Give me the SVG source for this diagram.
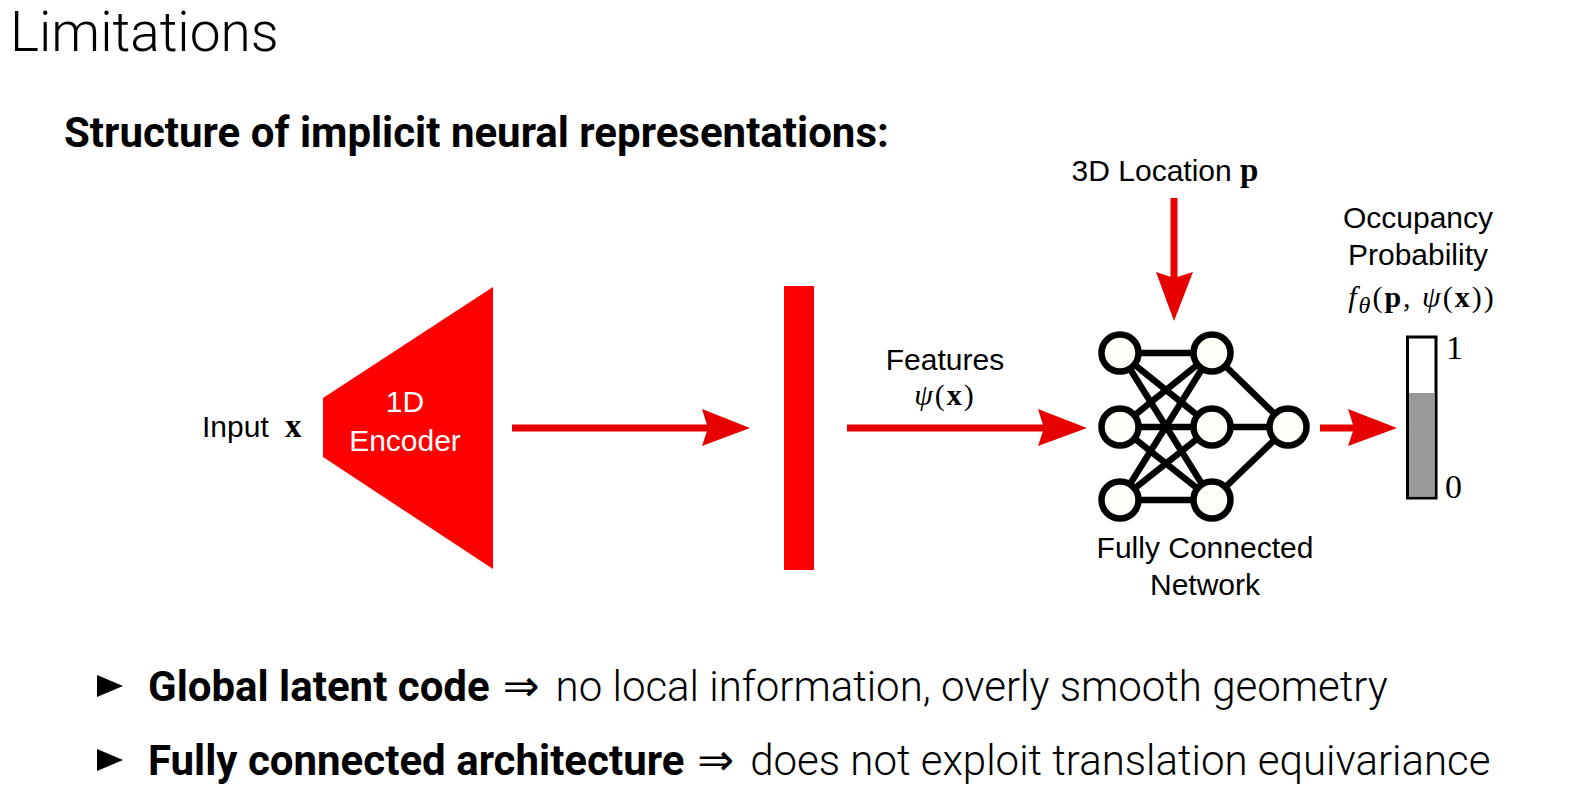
<svg xmlns="http://www.w3.org/2000/svg" width="1571" height="798" viewBox="0 0 1571 798">
<style>
.lbl{font-family:"Liberation Sans",Arial,sans-serif;font-size:30px;fill:#000}
.wlbl{font-family:"Liberation Sans",Arial,sans-serif;font-size:30px;fill:#fff}
.m{font-family:"Liberation Serif","Times New Roman",serif}
.mi{font-family:"Liberation Serif","Times New Roman",serif;font-style:italic}
.mb{font-family:"Liberation Serif","Times New Roman",serif;font-weight:bold}
.conn{stroke:#e60000;stroke-width:7;fill:none}
.head{fill:#e60000}
.nn{fill:#fffffa;stroke:#000;stroke-width:6.5}
.edge{stroke:#000;stroke-width:6.5}
.bold{font-family:Roboto,"Liberation Sans",sans-serif;font-weight:bold;font-size:42px}
.light{font-family:Roboto,"Liberation Sans",sans-serif;font-weight:300;font-size:42px}
.arr{font-family:"DejaVu Sans",sans-serif;font-size:44px}
</style>
<rect width="1571" height="798" fill="#fff"/>
<text x="10" y="51" font-family="Roboto, 'Liberation Sans', sans-serif" font-weight="300" font-size="55">Limitations</text>
<text x="64" y="147" class="bold" font-size="41">Structure of implicit neural representations:</text>

<g id="input">
<text x="202" y="437" class="lbl">Input <tspan class="mb" dx="8" font-size="33">x</tspan></text>
</g>
<g id="encoder">
<polygon points="323,398 493,287 493,569 323,457" fill="#ff0000"/>
<text x="405" y="412" class="wlbl" text-anchor="middle">1D</text>
<text x="405" y="451" class="wlbl" text-anchor="middle">Encoder</text>
</g>
<g id="feature-bar">
<rect x="784" y="286" width="30" height="284" fill="#ff0000"/>
</g>
<g id="features-label">
<text x="945" y="370" class="lbl" text-anchor="middle">Features</text>
<text x="945" y="405" class="lbl" text-anchor="middle" font-size="35" letter-spacing="2"><tspan class="mi">ψ</tspan><tspan class="m">(</tspan><tspan class="mb">x</tspan><tspan class="m">)</tspan></text>
</g>
<g id="location-label">
<text x="1165" y="181" class="lbl" text-anchor="middle">3D Location <tspan class="mb" font-size="33">p</tspan></text>
</g>

<g id="connectors">
<line x1="512" y1="428" x2="710" y2="428" class="conn"/>
<polygon points="702,409 750,428 702,446 708,428" class="head"/>
<line x1="847" y1="428" x2="1046" y2="428" class="conn"/>
<polygon points="1038,409 1087,428 1038,446 1044,428" class="head"/>
<line x1="1174" y1="198" x2="1174" y2="278" class="conn"/>
<polygon points="1156,272 1174,321 1193,272 1174,278" class="head"/>
<line x1="1320" y1="428" x2="1354" y2="428" class="conn"/>
<polygon points="1348,409 1397,428 1348,446 1354,428" class="head"/>
</g>

<g id="network">
<g class="edge">
<line x1="1120" y1="353" x2="1212" y2="353"/>
<line x1="1120" y1="353" x2="1212" y2="427"/>
<line x1="1120" y1="353" x2="1212" y2="500"/>
<line x1="1120" y1="427" x2="1212" y2="353"/>
<line x1="1120" y1="427" x2="1212" y2="427"/>
<line x1="1120" y1="427" x2="1212" y2="500"/>
<line x1="1120" y1="500" x2="1212" y2="353"/>
<line x1="1120" y1="500" x2="1212" y2="427"/>
<line x1="1120" y1="500" x2="1212" y2="500"/>
<line x1="1212" y1="353" x2="1288" y2="427"/>
<line x1="1212" y1="427" x2="1288" y2="427"/>
<line x1="1212" y1="500" x2="1288" y2="427"/>
</g>
<circle cx="1120" cy="353" r="18.5" class="nn"/>
<circle cx="1120" cy="427" r="18.5" class="nn"/>
<circle cx="1120" cy="500" r="18.5" class="nn"/>
<circle cx="1212" cy="353" r="18.5" class="nn"/>
<circle cx="1212" cy="427" r="18.5" class="nn"/>
<circle cx="1212" cy="500" r="18.5" class="nn"/>
<circle cx="1288" cy="427" r="18.5" class="nn"/>
<text x="1205" y="558" class="lbl" text-anchor="middle">Fully Connected</text>
<text x="1205" y="595" class="lbl" text-anchor="middle">Network</text>
</g>

<g id="occupancy">
<text x="1418" y="228" class="lbl" text-anchor="middle">Occupancy</text>
<text x="1418" y="265" class="lbl" text-anchor="middle">Probability</text>
<text x="1422" y="307" class="lbl" text-anchor="middle" font-size="36" letter-spacing="2"><tspan class="mi">f</tspan><tspan class="mi" font-size="24" dy="6">θ</tspan><tspan class="m" dy="-6">(</tspan><tspan class="mb">p</tspan><tspan class="m">, </tspan><tspan class="mi">ψ</tspan><tspan class="m">(</tspan><tspan class="mb">x</tspan><tspan class="m">))</tspan></text>
<rect x="1407.5" y="337" width="28.5" height="161" fill="#fff" stroke="#000" stroke-width="3"/>
<rect x="1409" y="393" width="25.5" height="103.5" fill="#999999"/>
<text x="1446" y="359" class="m" font-size="34">1</text>
<text x="1445" y="498" class="m" font-size="34">0</text>
</g>

<g id="bullets">
<polygon points="97,675 123,686 97,697" fill="#000"/>
<text x="148" y="701"><tspan class="bold">Global latent code</tspan><tspan class="arr" dx="13">⇒</tspan><tspan class="light" dx="16">no local information, overly smooth geometry</tspan></text>
<polygon points="97,749 123,760 97,771" fill="#000"/>
<text x="148" y="775"><tspan class="bold">Fully connected architecture</tspan><tspan class="arr" dx="13">⇒</tspan><tspan class="light" dx="16">does not exploit translation equivariance</tspan></text>
</g>
</svg>
